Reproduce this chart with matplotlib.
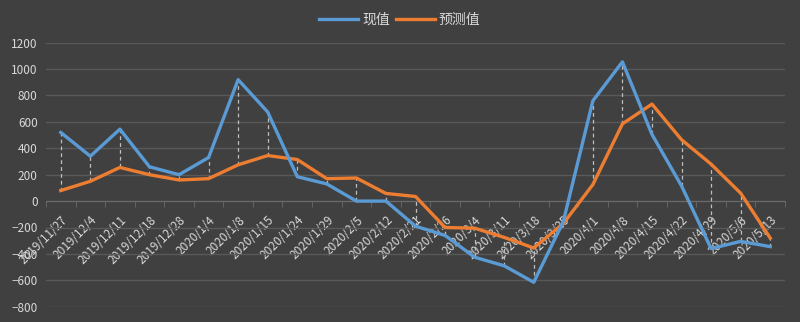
import numpy as np
import matplotlib
matplotlib.use('Agg')
import matplotlib.pyplot as plt

plt.rcParams['font.family'] = ['Noto Sans CJK SC', 'DejaVu Sans']

dates = ['2019/11/27', '2019/12/4', '2019/12/11', '2019/12/18', '2019/12/28',
         '2020/1/4', '2020/1/8', '2020/1/15', '2020/1/24', '2020/1/29',
         '2020/2/5', '2020/2/12', '2020/2/21', '2020/2/26', '2020/3/4',
         '2020/3/11', '2020/3/18', '2020/3/25', '2020/4/1', '2020/4/8',
         '2020/4/15', '2020/4/22', '2020/4/29', '2020/5/6', '2020/5/13']
actual = [520, 340, 545, 260, 200, 330, 920, 675, 185, 130,
          0, 0, -190, -260, -425, -490, -615, -155, 760, 1055,
          505, 115, -360, -305, -345]
predicted = [80, 150, 255, 200, 160, 170, 275, 345, 315, 170,
             175, 58, 35, -200, -205, -275, -355, -170, 125, 585,
             735, 465, 280, 60, -280]

bg = '#404040'
grid_c = '#595959'
txt_c = '#d9d9d9'

fig = plt.figure(figsize=(8, 3.22), dpi=100, facecolor=bg)
ax = fig.add_axes([46/800, 1-306.7/322, 739/800, 264/322], facecolor=bg)

x = np.arange(len(dates))
# high-low lines between the two series
ax.vlines(x, np.minimum(actual, predicted), np.maximum(actual, predicted),
          colors='#bfbfbf', linestyles=(0, (3, 2.5)), linewidth=0.9, zorder=2)
ax.plot(x, actual, color='#5B9BD5', lw=2.4, label='现值', zorder=4,
        solid_joinstyle='round')
ax.plot(x, predicted, color='#ED7D31', lw=2.4, label='预测值', zorder=3,
        solid_joinstyle='round')

ax.set_xlim(-0.5, len(dates) - 0.5)
ax.set_ylim(-800, 1200)
ax.set_yticks(np.arange(-800, 1201, 200))
ax.yaxis.grid(True, color=grid_c, lw=1)
ax.set_axisbelow(True)
for s in ['top', 'right', 'left']:
    ax.spines[s].set_visible(False)
ax.spines['bottom'].set_position(('data', 0))
ax.spines['bottom'].set_color('#6a6a6a')
ax.spines['bottom'].set_zorder(1)

ax.set_xticks(x)
ax.set_xticklabels(dates, rotation=45, ha='right', rotation_mode='anchor',
                   fontsize=8.5, color=txt_c)
ax.set_xticks(np.arange(-0.5, len(dates)), minor=True)
ax.tick_params(axis='x', which='major', length=0, pad=9)
ax.tick_params(axis='x', which='minor', length=4, color='#6a6a6a', direction='out')
ax.tick_params(axis='y', length=0, labelsize=8.5, labelcolor=txt_c, pad=6)

leg = fig.legend(loc='upper center', bbox_to_anchor=(0.5, 1.0), ncol=2,
                 frameon=False, fontsize=10, handlelength=2.8, columnspacing=0.4,
                 handletextpad=0.3)
for t in leg.get_texts():
    t.set_color(txt_c)

fig.savefig('out.png', dpi=100, facecolor=bg)
